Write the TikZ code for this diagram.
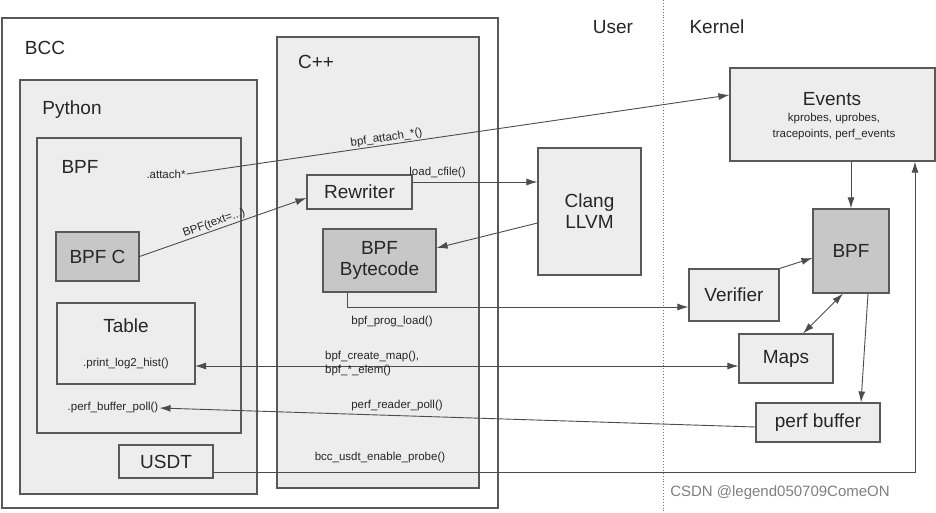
\documentclass[tikz,border=0pt]{standalone}
\usepackage{fontspec}
\setmainfont{Liberation Sans}
\usetikzlibrary{calc,arrows.meta}

\tikzset{
  box/.style={draw=black!65,line width=1.1pt,fill=black!7},
  dark/.style={draw=black!65,line width=1.1pt,fill=black!22},
  big/.style={font=\fontsize{19}{21}\selectfont,text=black!85},
  lbl/.style={font=\fontsize{11.5}{13}\selectfont,text=black!85,inner sep=1pt},
  arr/.style={draw=black!70,line width=0.9pt,-{Latex[length=11pt,width=7pt]}},
  darr/.style={draw=black!70,line width=0.9pt,{Latex[length=11pt,width=7pt]}-{Latex[length=11pt,width=7pt]}}
}

\begin{document}
\begin{tikzpicture}[x=1pt,y=-1pt]
  \useasboundingbox[fill=white] (0,0) rectangle (936,512);

  %% user / kernel split
  \draw[black!55,dotted,line width=0.9pt] (663,0) -- (663,512);
  \node[big] (USER) at (613,27) {User};
  \node[big] (KERNEL) at (717,27) {Kernel};

  %% BCC side
  \draw[draw=black!65,line width=1.1pt,fill=white] (2,18) rectangle (498,508);
  \node[big] (BCC) at (45,48) {BCC};
  \draw[box] (20,80) rectangle (257,494);
  \node[big] (PYTHON) at (72,110) {Python};
  \draw[box] (37,138) rectangle (241,433);
  \node[big] (BPFPY) at (80,167) {BPF};
  \draw[box] (277,37) rectangle (479,488);
  \node[big] (CPP) at (316,62) {C++};

  \node[dark,big,minimum width=83pt,minimum height=49pt,inner sep=0pt] (BPFC) at (97.5,256.5) {BPF C};
  \draw[box] (57,303) rectangle (195,384);
  \node[big] (TABLE) at (126,326) {Table};
  \node[lbl] (HIST) at (126,364) {.print\_log2\_hist()};
  \coordinate (TABE) at (195,366);
  \node[lbl] (POLL) at (113,408) {.perf\_buffer\_poll()};
  \node[lbl] (ATTACH) at (166,174) {.attach*};
  \node[box,big,minimum width=94pt,minimum height=33pt,inner sep=0pt] (USDT) at (166,461.5) {USDT};

  \node[box,big,minimum width=105pt,minimum height=34pt,inner sep=0pt] (REWRITER) at (359.5,192) {Rewriter};
  \node[dark,big,minimum width=113pt,minimum height=63pt,inner sep=0pt,align=center] (BYTECODE) at (379.5,260.5) {BPF\\Bytecode};
  \node[box,big,minimum width=103pt,minimum height=127pt,inner sep=0pt,align=center] (CLANG) at (589.5,211.5) {Clang\\LLVM};

  %% kernel side
  \node[box,minimum width=205pt,minimum height=93pt,inner sep=0pt] (EVENTS) at (832.5,114.5) {};
  \node[big] (EVTITLE) at (832,99) {Events};
  \node[lbl] (EVLINE1) at (834,119) {kprobes, uprobes,};
  \node[lbl] (EVLINE2) at (834,135) {tracepoints, perf\_events};
  \node[dark,big,minimum width=76pt,minimum height=84pt,inner sep=0pt] (BPFK) at (851,251) {BPF};
  \node[box,big,minimum width=90pt,minimum height=52pt,inner sep=0pt] (VERIFIER) at (734,295) {Verifier};
  \node[box,big,minimum width=94pt,minimum height=49pt,inner sep=0pt] (MAPS) at (786,358.5) {Maps};
  \node[box,big,minimum width=124pt,minimum height=39pt,inner sep=0pt] (PERFBUF) at (818,422.5) {perf buffer};

  %% connectors
  \draw[arr] (ATTACH.east) -- (EVENTS.west |- 0,95) node[lbl,pos=0.37,above,sloped] {bpf\_attach\_*()};
  \draw[arr] (BPFC.east) -- (REWRITER.west |- 0,198) node[lbl,pos=0.46,above,sloped] {BPF(text=...)};
  \draw[arr] (REWRITER.east |- 0,182) -- (CLANG.west |- 0,182) node[lbl,pos=0.2,above=3pt] {load\_cfile()};
  \draw[arr] (CLANG.west |- 0,223) -- (BYTECODE.east |- 0,248);
  \draw[arr] (BYTECODE.south -| 347,0) |- (VERIFIER.west |- 0,307);
  \node[lbl] (PROGLOAD) at (392,322) {bpf\_prog\_load()};
  \draw[darr] (TABE) -- (MAPS.west |- TABE);
  \node[lbl,anchor=west,align=left] (CREATEMAP) at (324,364) {bpf\_create\_map(),\\[1pt]bpf\_*\_elem()};
  \draw[arr] (PERFBUF.west |- 0,427) -- (POLL.east);
  \node[lbl] (READERPOLL) at (397,406) {perf\_reader\_poll()};
  \draw[arr] (USDT.east |- 0,472) -| (EVENTS.south -| 915,0);
  \node[lbl] (ENABLE) at (380,458) {bcc\_usdt\_enable\_probe()};
  \draw[arr] (EVENTS.south -| BPFK.north) -- (BPFK.north);
  \draw[arr] (VERIFIER.north east) -- (BPFK.west |- 0,258);
  \draw[darr] (MAPS.north -| 803,0) -- (BPFK.south -| 843,0);
  \draw[arr] (BPFK.south -| 868,0) -- (PERFBUF.north -| 861,0);

  \node[text=black!50,font=\fontsize{15}{17}\selectfont] (MARK) at (780,493) {CSDN @legend050709ComeON};
\end{tikzpicture}
\end{document}
